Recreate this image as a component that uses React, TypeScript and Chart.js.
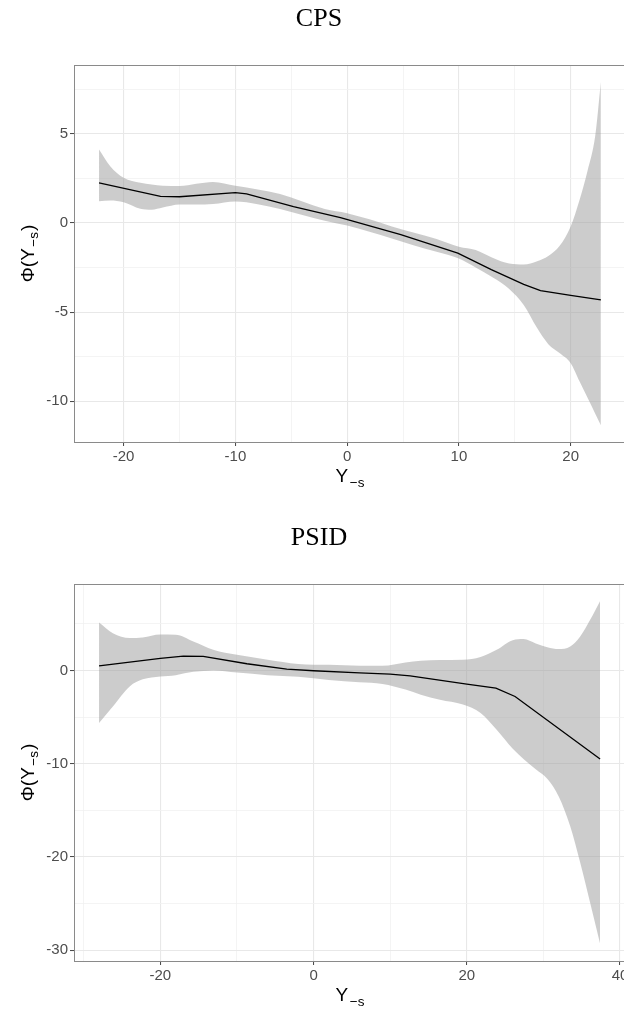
import React, { useEffect, useRef } from 'react';
import { Chart, registerables } from 'chart.js';

Chart.register(...registerables);

// ---------- CPS panel data ----------
const CPS_BAND_X = [-22.2, -21.2, -20, -18.5, -17.5, -16.5, -15, -13.5, -12, -10, -8, -6, -4, -2, 0, 2, 4, 6, 8, 10, 11.5, 13, 14.5, 15.8, 17, 18, 19, 20, 20.8, 21.5, 22.2, 22.7];
const CPS_UPPER = [4.12, 3.18, 2.53, 2.25, 2.15, 2.08, 2.07, 2.2, 2.3, 2.08, 1.88, 1.62, 1.2, 0.78, 0.55, 0.2, -0.2, -0.55, -0.9, -1.33, -1.52, -1.95, -2.28, -2.33, -2.15, -1.85, -1.3, -0.2, 1.3, 2.9, 4.9, 7.9];
const CPS_LOWER = [1.21, 1.26, 1.16, 0.79, 0.74, 0.86, 1.03, 1.03, 1.06, 1.2, 1.05, 0.78, 0.45, 0.12, -0.15, -0.5, -0.88, -1.27, -1.62, -2.0, -2.5, -3.05, -3.7, -4.6, -5.9, -6.8, -7.3, -7.87, -8.9, -9.8, -10.7, -11.35];
const CPS_LINE_X = [-22.2, -16.7, -15, -10, -9, -4.8, -0.6, 4.8, 9.9, 12.9, 15.8, 17.3, 20, 22.7];
const CPS_LINE_Y = [2.25, 1.49, 1.47, 1.7, 1.63, 0.92, 0.3, -0.66, -1.69, -2.62, -3.45, -3.8, -4.06, -4.32];
const CPS_X_TICKS = [-20, -10, 0, 10, 20];
const CPS_X_MINOR = [-15, -5, 5, 15];
const CPS_Y_TICKS = [-10, -5, 0, 5];
const CPS_Y_MINOR = [-7.5, -2.5, 2.5, 7.5];
const CPS_X_RANGE = [-24.44, 24.95];
const CPS_Y_RANGE = [-12.29, 8.86];

// ---------- PSID panel data ----------
const PSID_BAND_X = [-28, -26.2, -24, -22.3, -20, -18, -15.7, -13.1, -10, -6, -2, 2, 6, 9, 12, 14, 16.5, 19.5, 21.8, 23.9, 26, 27.4, 29, 30.5, 32, 33.5, 34.8, 36.1, 37.4];
const PSID_UPPER = [5.14, 4.0, 3.47, 3.54, 3.85, 3.83, 3.11, 2.22, 1.68, 1.15, 0.7, 0.6, 0.5, 0.5, 0.85, 1.04, 1.12, 1.15, 1.44, 2.22, 3.25, 3.36, 2.9, 2.5, 2.29, 2.57, 3.64, 5.43, 7.45];
const PSID_LOWER = [-5.64, -3.86, -1.71, -0.95, -0.64, -0.5, -0.15, 0.0, -0.23, -0.5, -0.68, -1.02, -1.27, -1.45, -2.05, -2.6, -3.14, -3.66, -4.57, -6.36, -8.4, -9.5, -10.6, -11.6, -13.5, -16.7, -20.6, -24.9, -29.3];
const PSID_LINE_X = [-28, -20, -17, -14.4, -8.7, -3.5, 0, 6, 10, 12.6, 20, 23.8, 26.3, 37.4];
const PSID_LINE_Y = [0.5, 1.29, 1.54, 1.5, 0.72, 0.15, -0.03, -0.25, -0.39, -0.57, -1.46, -1.89, -2.79, -9.5];
const PSID_X_TICKS = [-20, 0, 20, 40];
const PSID_X_MINOR = [-30, -10, 10, 30];
const PSID_Y_TICKS = [-30, -20, -10, 0];
const PSID_Y_MINOR = [-25, -15, -5, 5];
const PSID_X_RANGE = [-31.27, 40.78];
const PSID_Y_RANGE = [-31.15, 9.27];

const SANS = '"Liberation Sans", Arial, Helvetica, sans-serif';
const SERIF = '"Liberation Serif", "Times New Roman", serif';

type PanelProps = {
  title: string;
  bandX: number[];
  upper: number[];
  lower: number[];
  lineX: number[];
  lineY: number[];
  xTicks: number[];
  xMinor: number[];
  yTicks: number[];
  yMinor: number[];
  xRange: number[];
  yRange: number[];
};

function axisOptions(major: number[], minor: number[], range: number[], isX: boolean) {
  const all = [...major, ...minor].sort((a, b) => a - b);
  const isMajor = (v: number) => major.some((m) => Math.abs(m - v) < 1e-9);
  return {
    type: 'linear',
    position: isX ? 'bottom' : 'left',
    min: range[0],
    max: range[1],
    afterBuildTicks: (axis: any) => {
      axis.ticks = all.map((v) => ({ value: v }));
    },
    afterFit: (axis: any) => {
      if (isX) axis.height = 77;
      else axis.width = 74;
    },
    border: { display: false },
    grid: {
      color: (c: any) => (c.tick && isMajor(c.tick.value) ? '#E8E8E8' : '#F1F1F1'),
      lineWidth: (c: any) => (c.tick && isMajor(c.tick.value) ? 1.1 : 0.8),
      drawTicks: true,
      tickLength: 4,
      tickWidth: 1,
      tickColor: (c: any) => (c.tick && isMajor(c.tick.value) ? '#444444' : 'rgba(0,0,0,0)'),
    },
    ticks: {
      autoSkip: false,
      maxRotation: 0,
      minRotation: 0,
      padding: 2,
      color: '#4D4D4D',
      font: { family: SANS, size: 15 },
      callback: (v: any) => (isMajor(Number(v)) ? String(v) : ''),
    },
  };
}

function Panel(props: PanelProps) {
  const ref = useRef<HTMLCanvasElement | null>(null);
  useEffect(() => {
    if (!ref.current) return;
    const p = props;
    const decor = {
      id: 'decor',
      afterDatasetsDraw(chart: any) {
        const { ctx, chartArea: a } = chart;
        ctx.save();
        ctx.strokeStyle = '#8A8A8A';
        ctx.lineWidth = 1;
        ctx.strokeRect(a.left + 0.5, a.top + 0.5, a.right - a.left, a.bottom - a.top);
        ctx.restore();
      },
      afterDraw(chart: any) {
        const { ctx, chartArea: a } = chart;
        ctx.save();
        // Title
        ctx.fillStyle = '#000';
        ctx.font = `26px ${SERIF}`;
        ctx.textAlign = 'left';
        ctx.textBaseline = 'alphabetic';
        const tw = ctx.measureText(p.title).width;
        ctx.fillText(p.title, chart.width / 2 - tw / 2, 26);

        const mainFont = `19px ${SANS}`;
        const subFont = `13.5px ${SANS}`;
        // X axis title: Y_{-s}
        ctx.font = mainFont;
        const wY = ctx.measureText('Y').width;
        ctx.font = subFont;
        const wSub = ctx.measureText('\u2212s').width;
        const gap = 1.5;
        const tot = wY + gap + wSub;
        const x0 = (a.left + a.right) / 2 - tot / 2;
        const by = a.bottom + 40;
        ctx.font = mainFont;
        ctx.fillText('Y', x0, by);
        ctx.font = subFont;
        ctx.fillText('\u2212s', x0 + wY + gap, by + 4.8);

        // Y axis title: Φ(Y_{-s})
        ctx.translate(33.5, (a.top + a.bottom) / 2);
        ctx.rotate(-Math.PI / 2);
        ctx.font = mainFont;
        const w1 = ctx.measureText('\u03A6(Y').width;
        const w3 = ctx.measureText(')').width;
        ctx.font = subFont;
        const w2 = ctx.measureText('\u2212s').width;
        const tot2 = w1 + gap + w2 + 1 + w3;
        let sx = -tot2 / 2;
        ctx.font = mainFont;
        ctx.fillText('\u03A6(Y', sx, 0);
        sx += w1 + gap;
        ctx.font = subFont;
        ctx.fillText('\u2212s', sx, 4.5);
        sx += w2 + 1;
        ctx.font = mainFont;
        ctx.fillText(')', sx, 0);
        ctx.restore();
      },
    };

    const chart = new Chart(ref.current, {
      type: 'line',
      data: {
        datasets: [
          {
            label: 'upper',
            data: p.bandX.map((x, i) => ({ x, y: p.upper[i] })),
            borderWidth: 0,
            borderColor: 'rgba(0,0,0,0)',
            pointRadius: 0,
            fill: false,
            tension: 0.4,
            cubicInterpolationMode: 'monotone',
            order: 2,
          },
          {
            label: 'lower',
            data: p.bandX.map((x, i) => ({ x, y: p.lower[i] })),
            borderWidth: 0,
            borderColor: 'rgba(0,0,0,0)',
            backgroundColor: 'rgba(153,153,153,0.5)',
            pointRadius: 0,
            fill: '-1',
            tension: 0.4,
            cubicInterpolationMode: 'monotone',
            order: 1,
          },
          {
            label: 'fit',
            data: p.lineX.map((x, i) => ({ x, y: p.lineY[i] })),
            borderColor: '#000000',
            borderWidth: 1.3,
            pointRadius: 0,
            fill: false,
            tension: 0,
            order: 0,
          },
        ],
      } as any,
      options: {
        animation: false,
        responsive: false,
        maintainAspectRatio: false,
        devicePixelRatio: 1,
        layout: { padding: { top: 65, left: 0, right: 12, bottom: 0 } },
        plugins: {
          legend: { display: false },
          title: { display: false },
          tooltip: { enabled: false },
        },
        scales: {
          x: axisOptions(p.xTicks, p.xMinor, p.xRange, true),
          y: axisOptions(p.yTicks, p.yMinor, p.yRange, false),
        } as any,
      } as any,
      plugins: [decor],
    });
    return () => chart.destroy();
  }, []);
  return <canvas ref={ref} width={638} height={519} style={{ display: 'block' }} />;
}

export default function App() {
  return (
    <div
      style={{
        position: 'absolute',
        left: 0,
        top: 0,
        width: 624,
        height: 1010,
        overflow: 'hidden',
        background: '#ffffff',
      }}
    >
      <div style={{ position: 'absolute', left: 0, top: 0, width: 638, height: 519 }}>
        <Panel
          title="CPS"
          bandX={CPS_BAND_X}
          upper={CPS_UPPER}
          lower={CPS_LOWER}
          lineX={CPS_LINE_X}
          lineY={CPS_LINE_Y}
          xTicks={CPS_X_TICKS}
          xMinor={CPS_X_MINOR}
          yTicks={CPS_Y_TICKS}
          yMinor={CPS_Y_MINOR}
          xRange={CPS_X_RANGE}
          yRange={CPS_Y_RANGE}
        />
      </div>
      <div style={{ position: 'absolute', left: 0, top: 519, width: 638, height: 519 }}>
        <Panel
          title="PSID"
          bandX={PSID_BAND_X}
          upper={PSID_UPPER}
          lower={PSID_LOWER}
          lineX={PSID_LINE_X}
          lineY={PSID_LINE_Y}
          xTicks={PSID_X_TICKS}
          xMinor={PSID_X_MINOR}
          yTicks={PSID_Y_TICKS}
          yMinor={PSID_Y_MINOR}
          xRange={PSID_X_RANGE}
          yRange={PSID_Y_RANGE}
        />
      </div>
    </div>
  );
}
